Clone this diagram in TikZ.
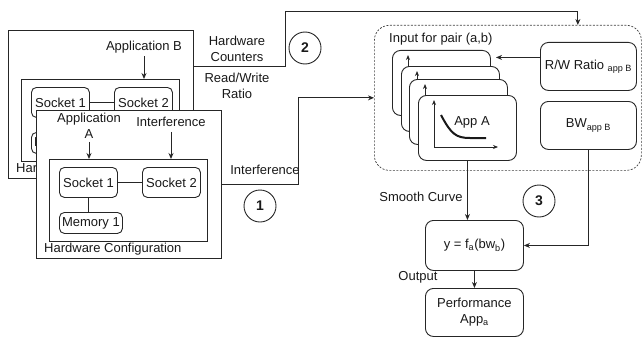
\documentclass[tikz,border=0pt]{standalone}
\usepackage{fontspec}
\setmainfont{Liberation Sans}
\usetikzlibrary{arrows.meta,calc}
\begin{document}
\begin{tikzpicture}[x=1pt,y=-1pt,
  every node/.style={font=\fontsize{13}{16}\selectfont, inner sep=0pt, text=black!90},
  lw/.style={line width=0.9pt, draw=black!85},
  arr/.style={lw, -{Stealth[length=6pt,width=5pt]}},
  sarr/.style={lw, -{Stealth[length=5pt,width=4pt]}},
  plainbox/.style={draw=black!85, line width=0.9pt, fill=white, anchor=north west},
  rbox/.style={plainbox, rounded corners=5pt},
  cardbox/.style={plainbox, rounded corners=8pt, minimum width=98pt, minimum height=65pt},
  bigbox/.style={plainbox, rounded corners=8pt, minimum width=96pt, minimum height=48pt},
  sock/.style={rbox, minimum width=58pt, minimum height=30pt},
  mem/.style={rbox, minimum width=63pt, minimum height=21pt},
  lbl/.style={align=center},
  num/.style={circle, draw=black!85, line width=0.9pt, minimum size=32pt, font=\fontsize{14}{16}\selectfont\bfseries},
]
\useasboundingbox (0,0) rectangle (644,337);

% ---------- back hardware configuration (application B) ----------
\node[plainbox, minimum width=185pt, minimum height=148pt] (hwB) at (8,30) {};
\node[plainbox, minimum width=158pt, minimum height=82pt] (inB) at (21,79) {};
\node[sock] (s1B) at (31,87) {Socket 1};
\node[sock] (s2B) at (114,87) {Socket 2};
\node[mem] (mB) at (31,132) {Memory 1};
\draw[lw] (s1B) -- (s2B);
\draw[lw] (s1B.south) -- (s1B.south |- mB.north);
\node[anchor=west] (hcB) at (16,169) {Hardware Configuration};
\node (appB) at (144,47) {Application B};
\draw[arr] ([yshift=-3pt]appB.south) -- (appB.south |- inB.north);

% ---------- front hardware configuration (application A) ----------
\node[plainbox, minimum width=185pt, minimum height=148pt] (hwA) at (36,110) {};
\node[plainbox, minimum width=158pt, minimum height=82pt] (inA) at (49,159) {};
\node[sock] (s1A) at (59,167) {Socket 1};
\node[sock] (s2A) at (142,167) {Socket 2};
\node[mem] (mA) at (59,212) {Memory 1};
\draw[lw] (s1A) -- (s2A);
\draw[lw] (s1A.south) -- (s1A.south |- mA.north);
\node[anchor=west] (hcA) at (44,249) {Hardware Configuration};
\node[lbl] (appA) at (89,126) {Application\\A};
\draw[arr] ([yshift=-3pt]appA.south) -- (appA.south |- inA.north);
\node (intA) at (171,122) {Interference};
\draw[arr] ([yshift=-5pt]intA.south) -- (intA.south |- inA.north);

% ---------- input box ----------
\node[draw=black!75, line width=0.7pt, dash pattern=on 2pt off 1.5pt, rounded corners=15pt,
      minimum width=267pt, minimum height=145pt, anchor=north west] (dash) at (374,25) {};
\node[anchor=west] (inp) at (389,39) {Input for pair (a,b)};

\foreach \i/\x/\y in {1/392/50, 2/401/66, 3/409/79, 4/418/95} {
  \node[cardbox] (card\i) at (\x,\y) {};
  \draw[sarr] ($(card\i.north west)+(16,52)$) -- ++(0,-47);
  \draw[sarr] ($(card\i.north west)+(16,52)$) -- ++(64,0);
}
\draw[line width=2pt, black!90] (441,115) .. controls (451,134) and (456,138) .. (470,138) -- (486,138);
\node (appAc) at (472,122) {App A};

\node[bigbox] (rw) at (540,42) {R/W Ratio \textsubscript{app B}};
\node[bigbox] (bw) at (540,101) {BW\textsubscript{app B}};
\draw[arr] ([yshift=9pt]rw.west) -- ++(-44,0);

% ---------- function and output ----------
\node[plainbox, rounded corners=8pt, minimum width=98pt, minimum height=50pt] (f) at (425,220) {y = f\textsubscript{a}(bw\textsubscript{b})};
\node[plainbox, rounded corners=8pt, minimum width=98pt, minimum height=48pt, lbl] (perf) at (425,288) {Performance\\App\textsubscript{a}};
\draw[arr] (card4.south) -- (card4.south |- f.north);
\draw[arr] (bw.south) |- (f.east);
\draw[arr] (f.south) -- (perf.north);
\node (smooth) at (421,197) {Smooth Curve};
\node (outl) at (418,277) {Output};

% ---------- connectors from hardware ----------
\draw[arr] ([yshift=-36pt]hwB.north east) -- ++(92,0) |- ([xshift=70pt,yshift=14pt]dash.north) -- ([xshift=70pt]dash.north);
\draw[arr] (hwA.east) -- ++(77,0) |- (dash.west);
\node[lbl] (hwc) at (237,49) {Hardware\\Counters};
\node[lbl] (rwr) at (237,86) {Read/Write\\Ratio};
\node (intl) at (265,170) {Interference};

\node[num] (n1) at (260,206) {1};
\node[num] (n2) at (305,48) {2};
\node[num] (n3) at (539,201) {3};
\end{tikzpicture}
\end{document}
